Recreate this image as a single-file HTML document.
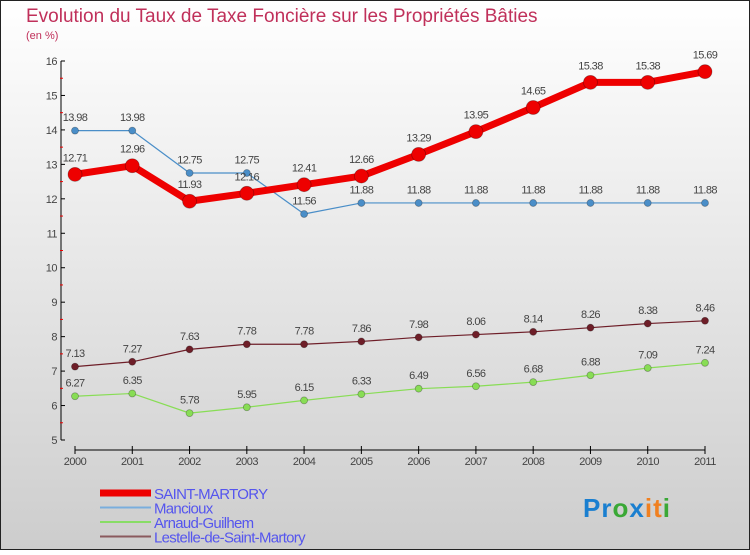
<!DOCTYPE html>
<html><head><meta charset="utf-8"><style>
body{margin:0}
#c{width:750px;height:550px;position:relative;font-family:"Liberation Sans",sans-serif}
</style></head><body>
<div id="c">
<svg id="s" width="750" height="550" xmlns="http://www.w3.org/2000/svg">
<defs><linearGradient id="bg" x1="0" y1="0" x2="0" y2="1"><stop offset="0" stop-color="#ffffff"/><stop offset="1" stop-color="#cdcdcd"/></linearGradient></defs>
<rect x="0.5" y="0.5" width="749" height="549" fill="url(#bg)" stroke="#222"/>
<text x="26" y="22" font-size="19" fill="#c0305a">Evolution du Taux de Taxe Foncière sur les Propriétés Bâties</text>
<text x="26" y="39" font-size="11" fill="#c0305a">(en %)</text>
<g id="g"></g>
</svg>
</div>
<script>
const years=[2000,2001,2002,2003,2004,2005,2006,2007,2008,2009,2010,2011];
const saint=[12.71,12.96,11.93,12.16,12.41,12.66,13.29,13.95,14.65,15.38,15.38,15.69];
const mancioux=[13.98,13.98,12.75,12.75,11.56,11.88,11.88,11.88,11.88,11.88,11.88,11.88];
const arnaud=[6.27,6.35,5.78,5.95,6.15,6.33,6.49,6.56,6.68,6.88,7.09,7.24];
const lestelle=[7.13,7.27,7.63,7.78,7.78,7.86,7.98,8.06,8.14,8.26,8.38,8.46];
const yTicks=[5,6,7,8,9,10,11,12,13,14,15,16];
const NS='http://www.w3.org/2000/svg',g=document.getElementById('g');
const X=i=>75+i*(630/11), Y=v=>440-(v-5)*(379/11);
function el(t,a,txt){const e=document.createElementNS(NS,t);for(const k in a)e.setAttribute(k,a[k]);if(txt!==undefined)e.textContent=txt;g.appendChild(e);return e;}
let e=el('line',{x1:61,y1:Y(16),x2:61,y2:440,stroke:'#000','stroke-width':1});


e=el('line',{x1:X(0)-22+22,y1:450,x2:X(11),y2:450,stroke:'#000'});


yTicks.forEach(v=>{
 el('line',{x1:61,y1:Y(v),x2:65,y2:Y(v),stroke:'#000'});
 if(v<16)el('line',{x1:60,y1:Y(v+0.5),x2:63,y2:Y(v+0.5),stroke:'#e00'});
 e=el('text',{x:57,y:Y(v)+4,'font-size':11,fill:'#444','text-anchor':'end','letter-spacing':'-0.5'},v);
 
 
});
years.forEach((y,i)=>{
 el('line',{x1:X(i),y1:446,x2:X(i),y2:454,stroke:'#000'});
 e=el('text',{x:X(i),y:465,'font-size':11,fill:'#444','text-anchor':'middle','letter-spacing':'-0.5'},y);
 
 
});
function series(vals,color,w,r,name,above){
 const pts=vals.map((v,i)=>X(i)+','+Y(v)).join(' ');
 let p=el('polyline',{points:pts,fill:'none',stroke:color,'stroke-width':w,'stroke-linejoin':'round'});
 
 
 vals.forEach((v,i)=>{
  let c=el('circle',{cx:X(i),cy:Y(v),r:r,fill:color,stroke:'rgba(0,0,0,0.3)','stroke-width':0.8});
  
  
  let t=el('text',{x:X(i),y:Y(v)-(r+6),'font-size':11,fill:'#444','text-anchor':'middle','letter-spacing':'-0.6'},v);
  
  
 });
}
series(lestelle,'#6e1e28',1.2,3.5,'lestelle');
series(arnaud,'#88dd55',1.2,3.5,'arnaud-guilhem');
series(mancioux,'#4a8ec8',1.2,3.5,'mancioux');
series(saint,'#ee0000',7,7,'saint-martory');
const leg=[['SAINT-MARTORY','#ee0000',7],['Mancioux','#7aaedd',2],['Arnaud-Guilhem','#88dd66',2],['Lestelle-de-Saint-Martory','#8a5a5e',2]];
leg.forEach((l,i)=>{
 const y=493+i*14.5;
 let ln=el('line',{x1:100,y1:y,x2:151,y2:y,stroke:l[1],'stroke-width':l[2]});
 
 
 let t=el('text',{x:154,y:y+6,'font-size':15,fill:'#5555ee','letter-spacing':'-0.7'},l[0]);
 
 
});
const logo=el('text',{x:583,y:517,'font-size':26,'font-weight':'bold','letter-spacing':'1'});


[['P','#1a7fd0'],['r','#1a7fd0'],['o','#3aa836'],['x','#1a7fd0'],['i','#f08020'],['t','#f08020'],['i','#3aa836']].forEach(c=>{const s=document.createElementNS(NS,'tspan');s.setAttribute('fill',c[1]);s.textContent=c[0];logo.appendChild(s);});
</script>
</body></html>
